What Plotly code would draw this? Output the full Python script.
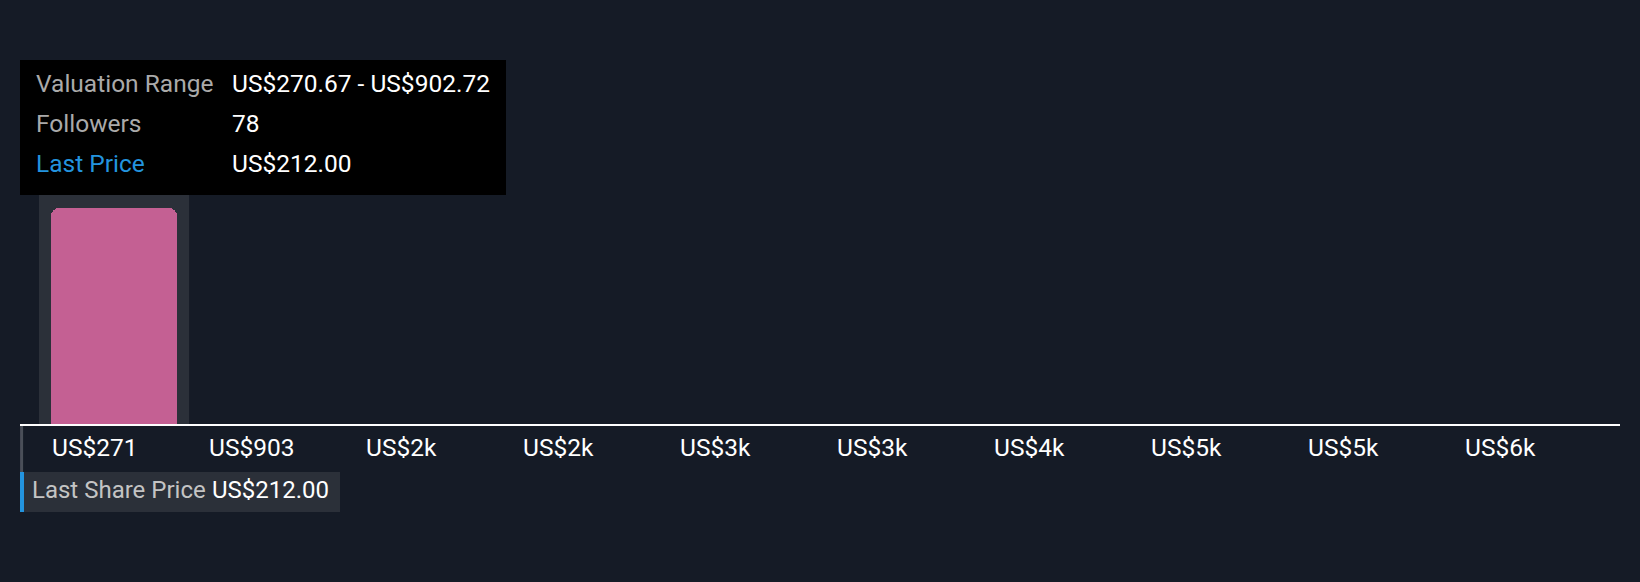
import plotly.graph_objects as go

# Data
tick_labels = ["US$271", "US$903", "US$2k", "US$2k", "US$3k",
               "US$3k", "US$4k", "US$5k", "US$5k", "US$6k"]
narrative_counts = [1, 0, 0, 0, 0, 0, 0, 0, 0, 0]
valuation_low = 270.67
valuation_high = 902.72
followers = 78
last_price = 212.00

BG = "#151b26"
PINK = "#c46093"
BAND = "#2b3039"
BLUE = "#2394df"
FONT = "Roboto"
FS = 24.5

bins = list(range(len(tick_labels)))

fig = go.Figure()

# hover highlight behind the first bar
fig.add_shape(type="rect", xref="x", yref="y", x0=-0.478, x1=0.478,
              y0=0, y1=1.685, fillcolor=BAND, line_width=0, layer="below")

fig.add_trace(go.Bar(
    x=bins, y=narrative_counts, width=0.803,
    marker=dict(color=PINK, cornerradius=8, line_width=0),
    hoverinfo="skip",
))

# tooltip box
fig.add_shape(type="rect", xref="paper", yref="paper", x0=0, x1=0.30375,
              y0=0.629, y1=1.0, fillcolor="#000000", line_width=0)
rows = [
    ("Valuation Range", "US$%.2f - US$%.2f" % (valuation_low, valuation_high), "#aaaaaa"),
    ("Followers", str(followers), "#aaaaaa"),
    ("Last Price", "US$%.2f" % last_price, BLUE),
]
for i, (lab, val, col) in enumerate(rows):
    yy = 0.9368 - i * 0.1099
    fig.add_annotation(x=0.0088, y=yy, xref="paper", yref="paper", text=lab,
                       showarrow=False, xanchor="left", yanchor="middle",
                       font=dict(family=FONT, size=FS, color=col))
    fig.add_annotation(x=0.131, y=yy, xref="paper", yref="paper", text=val,
                       showarrow=False, xanchor="left", yanchor="middle",
                       font=dict(family=FONT, size=FS, color="#ffffff"))

# last price marker (price sits left of the axis range, so it is pinned at the edge)
fig.add_shape(type="line", xref="paper", yref="paper", x0=0.001, x1=0.001,
              y0=-0.0055, y1=-0.1319, line=dict(color="#4a4f58", width=3))
fig.add_shape(type="rect", xref="paper", yref="paper", x0=0.0025, x1=0.2,
              y0=-0.2418, y1=-0.1319, fillcolor="#2b3039", line_width=0)
fig.add_shape(type="rect", xref="paper", yref="paper", x0=0, x1=0.0025,
              y0=-0.2418, y1=-0.1319, fillcolor=BLUE, line_width=0)
fig.add_annotation(x=0.0062, y=-0.1813, xref="paper", yref="paper",
                   text="Last Share Price", showarrow=False, xanchor="left",
                   yanchor="middle", font=dict(family=FONT, size=24, color="#c4c4c4"))
fig.add_annotation(x=0.1185, y=-0.1813, xref="paper", yref="paper",
                   text="US$%.2f" % last_price, showarrow=False, xanchor="left",
                   yanchor="middle", font=dict(family=FONT, size=24, color="#ffffff"))

fig.update_layout(
    width=1640, height=582,
    margin=dict(l=20, r=20, t=60, b=158),
    paper_bgcolor=BG, plot_bgcolor=BG,
    showlegend=False,
    bargap=0,
    font=dict(family=FONT, color="#ffffff"),
)
fig.update_xaxes(
    range=[-0.599, 9.592],
    tickvals=[b - 0.4015 for b in bins], ticktext=tick_labels,
    ticklabelposition="outside right", ticklabelstandoff=1,
    ticks="", showgrid=False, zeroline=False,
    showline=True, linecolor="#ffffff", linewidth=2,
    tickfont=dict(family=FONT, size=FS, color="#ffffff"),
)
fig.update_yaxes(range=[0, 1.685], visible=False, showgrid=False, zeroline=False)

fig.write_html("out.html", config={"displayModeBar": False},
               post_script="document.body.style.margin='0';"
                           "document.body.style.background='%s';" % BG)
